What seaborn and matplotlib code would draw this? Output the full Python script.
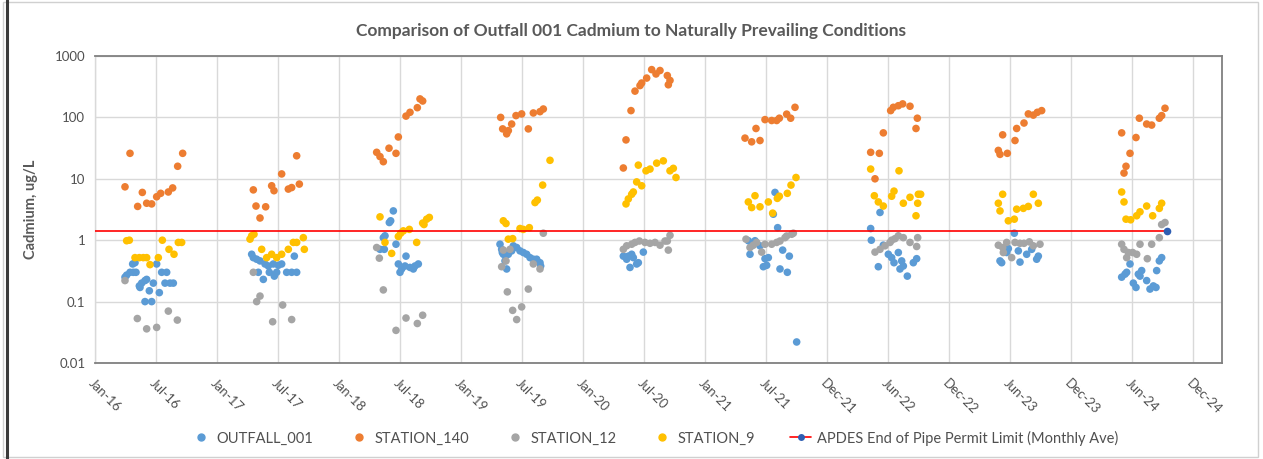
import matplotlib
matplotlib.use("Agg")
import matplotlib.pyplot as plt
from matplotlib.lines import Line2D
from matplotlib.patches import Rectangle
from matplotlib.ticker import FixedLocator, FuncFormatter, NullLocator
import seaborn as sns
import pandas as pd

# ---------------- data (x = days after 1 Jan 2016, y = Cadmium ug/L) ----------------
outfall_day = [113, 120, 95, 105, 115, 123, 90, 133, 140, 150, 155, 163, 175, 193, 200, 215, 210, 225, 235, 150, 170, 185, 135,
               470, 475, 485, 495, 510, 520, 535, 550, 560, 575, 590, 605, 598, 490, 505, 523, 538, 545,
               895, 883, 887, 870, 865, 903, 855, 868, 933, 910, 920, 915, 930, 945, 960, 970, 955,
               1215, 1220, 1225, 1235, 1240, 1255, 1265, 1275, 1285, 1295, 1305, 1315, 1325, 1335, 1337, 1250, 1230, 1222,
               1585, 1595, 1610, 1615, 1605, 1625, 1630, 1645, 1600,
               2040, 2035, 2048, 1960, 1970, 1980, 1965, 1995, 2010, 2020, 2005, 2015, 2063, 2083, 2055, 2077, 2105,
               2355, 2327, 2329, 2350, 2365, 2380, 2390, 2410, 2397, 2415, 2425, 2437, 2455, 2465, 2420,
               2758, 2715, 2720, 2740, 2770, 2775, 2795, 2810, 2825, 2830, 2735,
               3080, 3090, 3095, 3105, 3115, 3123, 3130, 3140, 3135, 3155, 3165, 3175, 3183, 3185, 3193, 3200]
outfall_cd = [0.41, 0.43, 0.27, 0.30, 0.30, 0.30, 0.25, 0.18, 0.20, 0.22, 0.23, 0.15, 0.20, 0.14, 0.30, 0.30, 0.20, 0.20, 0.20, 0.10, 0.10, 0.41, 0.17,
              0.59, 0.52, 0.49, 0.46, 0.41, 0.38, 0.41, 0.39, 0.41, 0.30, 0.30, 0.30, 0.55, 0.30, 0.23, 0.30, 0.26, 0.30,
              3.0, 1.94, 2.07, 1.18, 1.1, 0.86, 0.71, 0.71, 0.55, 0.41, 0.34, 0.30, 0.38, 0.36, 0.38, 0.41, 0.34,
              0.86, 0.71, 0.59, 0.34, 0.59, 0.81, 0.76, 0.67, 0.63, 0.59, 0.52, 0.49, 0.49, 0.43, 0.38, 0.67, 0.46, 0.63,
              0.55, 0.49, 0.59, 0.52, 0.36, 0.41, 0.43, 0.64, 0.55,
              6.0, 2.65, 1.6, 0.98, 0.81, 0.98, 0.59, 0.81, 0.50, 0.52, 0.37, 0.39, 0.69, 0.55, 0.34, 0.30, 0.022,
              2.83, 1.55, 1.0, 0.37, 0.83, 0.59, 0.52, 0.63, 0.43, 0.34, 0.38, 0.26, 0.43, 0.50, 0.46,
              1.3, 0.46, 0.43, 0.73, 0.67, 0.44, 0.59, 0.71, 0.49, 0.55, 0.63,
              0.25, 0.28, 0.30, 0.41, 0.20, 0.17, 0.28, 0.32, 0.26, 0.22, 0.16, 0.18, 0.17, 0.32, 0.46, 0.52]

station140_day = [105, 263, 248, 90, 142, 128, 155, 170, 185, 197, 220, 233,
                  605, 560, 530, 537, 475, 580, 590, 613, 483, 512, 495,
                  845, 855, 865, 882, 903, 910, 933, 945, 967, 975, 983,
                  1217, 1223, 1235, 1240, 1250, 1263, 1280, 1300, 1315, 1335, 1345,
                  1670, 1695, 1683, 1717, 1725, 1720, 1655, 1640, 1635, 1620, 1608, 1593, 1585,
                  1950, 1970, 1995, 1983, 2010, 2030, 2045, 2053, 2075, 2087, 2100,
                  2387, 2395, 2410, 2423, 2445, 2467, 2463, 2365, 2327, 2353, 2340,
                  2710, 2715, 2737, 2723, 2760, 2765, 2787, 2800, 2815, 2827, 2840,
                  3080, 3087, 3093, 3105, 3123, 3133, 3155, 3170, 3193, 3200, 3210]
station140_cd = [26, 26, 16, 7.4, 6.0, 3.55, 4.0, 3.9, 5.1, 5.8, 6.1, 7.1,
                 23.7, 12, 7.7, 6.4, 6.6, 6.8, 7.2, 8.2, 3.6, 3.5, 2.3,
                 27, 23, 19, 31.5, 26, 48, 105, 121, 144, 200, 185,
                 100, 65, 54, 61, 78, 107, 114, 65, 118, 124, 137,
                 600, 580, 510, 480, 400, 340, 437, 363, 330, 268, 129, 43, 15,
                 46, 40, 42, 66, 92, 89, 89, 97, 113, 97, 146,
                 129, 146, 155, 166, 152, 97, 66, 56, 27, 26, 10,
                 29, 25, 26, 52, 42, 66, 81, 114, 109, 121, 129,
                 56, 12.4, 16, 26, 47, 97, 78, 75, 97, 107, 141]

station12_day = [90, 127, 155, 185, 220, 247,
                 475, 485, 495, 563, 533, 590,
                 845, 853, 865, 933, 903, 967, 983,
                 1345, 1245, 1225, 1233, 1315, 1220, 1335, 1237, 1300, 1253, 1280, 1265,
                 1585, 1595, 1610, 1620, 1633, 1650, 1665, 1680, 1695, 1710, 1717, 1725, 1720,
                 1953, 1965, 1975, 1985, 2000, 2010, 2030, 2045, 2055, 2070, 2090, 2095, 2075,
                 2340, 2355, 2370, 2385, 2400, 2410, 2425, 2445, 2465, 2468, 2390,
                 2710, 2723, 2735, 2750, 2760, 2775, 2787, 2803, 2815, 2835, 2725,
                 3080, 3087, 3100, 3113, 3125, 3135, 3157, 3170, 3193, 3200, 3210, 3095]
station12_cd = [0.22, 0.053, 0.036, 0.038, 0.07, 0.05,
                0.30, 0.10, 0.123, 0.088, 0.047, 0.051,
                0.76, 0.51, 0.155, 0.054, 0.034, 0.044, 0.06,
                1.3, 0.71, 0.69, 0.46, 0.41, 0.37, 0.34, 0.144, 0.16, 0.072, 0.082, 0.051,
                0.71, 0.81, 0.86, 0.92, 0.97, 0.92, 0.89, 0.92, 0.83, 0.97, 0.97, 1.2, 0.69,
                1.04, 0.76, 0.83, 0.92, 0.64, 0.86, 0.86, 0.92, 0.97, 1.1, 1.25, 1.3, 1.17,
                0.64, 0.71, 0.81, 0.92, 1.06, 1.18, 1.1, 0.92, 0.79, 1.1, 1.0,
                0.83, 0.76, 0.92, 0.52, 0.92, 0.89, 0.89, 0.94, 0.81, 0.86, 0.63,
                0.86, 0.71, 0.63, 0.63, 0.59, 0.86, 0.50, 0.86, 1.1, 1.8, 1.94, 0.52]

station9_day = [95, 103, 202, 250, 260, 222, 237, 120, 133, 145, 155, 190, 165,
                465, 470, 477, 500, 515, 530, 545, 560, 580, 595, 605, 625, 628,
                855, 925, 943, 910, 870, 890, 965, 983, 995, 1003, 987, 917,
                1225, 1233, 1240, 1253, 1275, 1285, 1303, 1320, 1327, 1343, 1365,
                1593, 1600, 1610, 1615, 1625, 1640, 1630, 1653, 1665, 1685, 1705, 1725, 1735, 1743,
                1960, 1970, 1980, 1995, 2020, 2033, 2047, 2053, 2077, 2088, 2103,
                2327, 2412, 2338, 2350, 2365, 2390, 2397, 2425, 2445, 2470, 2477, 2468, 2463,
                2723, 2710, 2715, 2740, 2758, 2765, 2785, 2800, 2815, 2830,
                3080, 3087, 3093, 3107, 3125, 3135, 3155, 3173, 3193, 3200]
station9_cd = [0.98, 1.0, 1.0, 0.92, 0.92, 0.71, 0.59, 0.52, 0.52, 0.52, 0.52, 0.52, 0.40,
               1.04, 1.18, 1.25, 0.71, 0.52, 0.59, 0.52, 0.59, 0.71, 0.92, 0.92, 1.1, 0.71,
               2.4, 1.42, 1.5, 1.15, 0.92, 0.61, 0.92, 1.9, 2.2, 2.35, 1.8, 1.3,
               2.07, 1.87, 1.04, 1.06, 1.55, 1.5, 1.6, 4.1, 4.5, 7.9, 20,
               3.9, 4.7, 5.6, 6.1, 8.9, 7.7, 16.7, 13.5, 14.4, 18, 19.6, 13.5, 14.8, 10.5,
               4.2, 3.4, 5.3, 3.5, 4.2, 2.76, 4.8, 5.2, 5.8, 7.9, 10.5,
               14.4, 13.5, 5.3, 4.2, 3.6, 5.2, 6.3, 4.0, 5.0, 5.6, 5.6, 4.0, 2.5,
               5.6, 4.0, 3.0, 2.07, 2.2, 3.2, 3.3, 3.55, 5.6, 4.0,
               6.1, 4.2, 2.2, 2.15, 2.5, 2.9, 3.6, 2.5, 3.3, 4.0]

permit_day = [0, 3215]
permit_cd = [1.4, 1.4]

series_names = ["OUTFALL_001", "STATION_140", "STATION_12", "STATION_9"]
permit_name = "APDES End of Pipe Permit Limit (Monthly Ave)"
x_tick_labels = ["Jan-16", "Jul-16", "Jan-17", "Jul-17", "Jan-18", "Jul-18", "Jan-19", "Jul-19",
                 "Jan-20", "Jul-20", "Jan-21", "Jul-21", "Dec-21", "Jun-22", "Dec-22", "Jun-23",
                 "Dec-23", "Jun-24", "Dec-24"]
y_ticks = [0.01, 0.1, 1, 10, 100, 1000]
title = "Comparison of Outfall 001 Cadmium to Naturally Prevailing Conditions"
y_label = "Cadmium, ug/L"

# ---------------- styling ----------------
colors = {"OUTFALL_001": "#5B9BD5", "STATION_140": "#ED7D31",
          "STATION_12": "#A5A5A5", "STATION_9": "#FFC000"}
TXT = "#595959"
GRID = "#D9D9D9"

sns.set_theme(style="white")
plt.rcParams["font.family"] = ["Lato", "DejaVu Sans"]

frames = []
for name, d, v in [("OUTFALL_001", outfall_day, outfall_cd),
                   ("STATION_140", station140_day, station140_cd),
                   ("STATION_12", station12_day, station12_cd),
                   ("STATION_9", station9_day, station9_cd)]:
    frames.append(pd.DataFrame({"day": d, "cd": v, "series": name}))
df = pd.concat(frames, ignore_index=True)

fig = plt.figure(figsize=(12.63, 4.59), dpi=100)
ax = fig.add_axes([95 / 1263, 1 - 363 / 459, (1222 - 95) / 1263, (363 - 56) / 459])

ax.set_yscale("log")
ax.set_ylim(0.01, 1000)
ax.set_xlim(0, 3381)

sns.scatterplot(data=df, x="day", y="cd", hue="series", hue_order=series_names,
                palette=colors, s=30, linewidth=0, legend=False, ax=ax, zorder=3)
ax.plot(permit_day, permit_cd, color="#FF0000", lw=1.2, zorder=4,
        marker="o", markersize=5.5, markerfacecolor="#2F5FB3", markeredgewidth=0,
        markevery=[1])

# axes formatting
step = 183
ax.xaxis.set_major_locator(FixedLocator([step * k for k in range(len(x_tick_labels))]))
ax.set_xticklabels(x_tick_labels, rotation=-45, ha="left", va="top",
                   rotation_mode="anchor", color="#505050", fontsize=9.5)
ax.yaxis.set_major_locator(FixedLocator(y_ticks))
ax.yaxis.set_minor_locator(NullLocator())
ax.yaxis.set_major_formatter(FuncFormatter(lambda v, p: f"{v:g}"))
for t in ax.get_yticklabels():
    t.set_color("#505050")
    t.set_fontsize(9.5)
ax.tick_params(axis="both", length=0, pad=7)
ax.tick_params(axis="x", pad=10)

ax.grid(True, which="major", color=GRID, lw=1)
ax.set_axisbelow(True)
for side in ["top", "right", "bottom"]:
    ax.spines[side].set_color("#808080")
    ax.spines[side].set_linewidth(1.3)
ax.spines["left"].set_color(GRID)
ax.spines["left"].set_linewidth(1)

ax.set_xlabel("")
ax.set_ylabel(y_label, color=TXT, fontsize=10.5, fontweight="bold", labelpad=12)

fig.text(0.5, 1 - 31 / 459, title, ha="center", va="center",
         fontsize=12.5, fontweight="bold", color=TXT)

# legend
handles = [Line2D([], [], ls="none", marker="o", markersize=5, color=colors[n]) for n in series_names]
handles.append(Line2D([], [], color="#FF0000", lw=1.2, marker="o", markersize=5,
                      markerfacecolor="#2F5FB3", markeredgewidth=0))
labels = series_names + [permit_name]
fig.legend(handles, labels, loc="center", bbox_to_anchor=(0.518, 1 - 438 / 459),
           ncol=5, frameon=False, fontsize=10.5, labelcolor="#505050",
           columnspacing=2.4, handletextpad=0.4, handlelength=1.4)

# chart frame
fig.add_artist(Rectangle((0.002, 0.004), 0.994, 0.992, transform=fig.transFigure,
                         fill=False, edgecolor="#D0D0D0", lw=1))
fig.add_artist(Line2D([6.5 / 1263, 6.5 / 1263], [0.0, 1.0], transform=fig.transFigure,
                      color="#3A3A3A", lw=2.2))

fig.savefig("out.png", dpi=100)
